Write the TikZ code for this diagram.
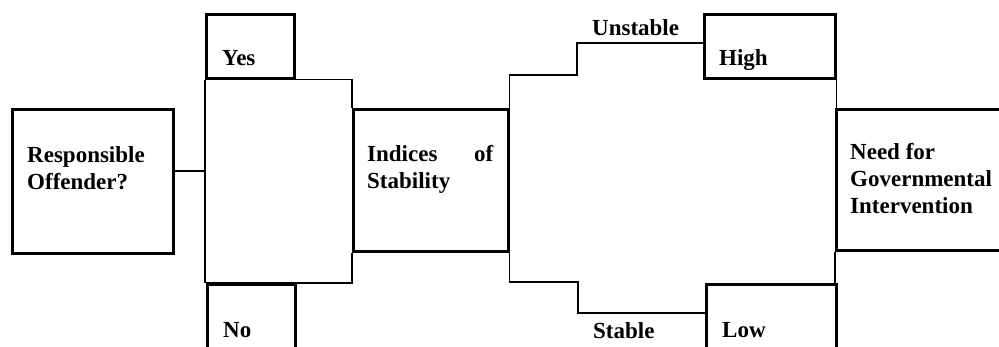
\documentclass[tikz,border=0pt]{standalone}
\usepackage{fontspec}
\setmainfont{Liberation Serif}
\begin{document}
\begin{tikzpicture}[x=1pt,y=-1pt,
  box/.style={draw, line width=2.6pt, inner sep=0pt, anchor=north west},
  wire/.style={line width=1.3pt},
  lbl/.style={anchor=base west, inner sep=0pt, font=\fontsize{23}{27}\selectfont\bfseries, align=left}]
\useasboundingbox (0,0) rectangle (999,346);
% boxes
\node[box, minimum width=161pt, minimum height=144pt] (resp) at (11,108) {};
\node[box, minimum width=88pt,  minimum height=64pt]  (yes)  at (205,13) {};
\node[box, minimum width=88pt,  minimum height=80pt]  (no)   at (206,283) {};
\node[box, minimum width=155pt, minimum height=142pt] (ind)  at (352,108) {};
\node[box, minimum width=131pt, minimum height=64pt]  (high) at (703,13) {};
\node[box, minimum width=130pt, minimum height=80pt]  (low)  at (705,283) {};
\node[box, minimum width=180pt, minimum height=141pt] (need) at (835,108) {};
% texts (base anchor = baseline of last line)
\node[lbl] (tresp) at (27,189) {Responsible\\Offender?};
\node[lbl] (tind)  at (367,188) {\makebox[126pt][l]{Indices\hfill of}\\Stability};
\node[lbl] (tneed) at (850,213) {Need for\\Governmental\\Intervention};
\node[lbl] (tyes)  at (222,65) {Yes};
\node[lbl] (tno)   at (223,337) {No};
\node[lbl] (thigh) at (719,65) {High};
\node[lbl] (tlow)  at (722,337) {Low};
\node[lbl] (tuns)  at (592,35) {Unstable};
\node[lbl] (tsta)  at (593,338) {Stable};
% connectors
\coordinate (j1) at (206,171);
\draw[wire] (resp.east |- j1) -- (j1);
\draw[wire] (yes.south west) -- (yes.south west |- no.north west);
\draw[wire] (yes.south west) -- (yes.south west -| ind.north west) -- (ind.north west);
\draw[wire] (no.north west) -- (no.north west -| ind.south west) -- (ind.south west);
\coordinate (u1) at (577,75);
\coordinate (u2) at (577,43);
\draw[wire] (ind.north east) |- (u1) -- (u2) -- (u2 -| high.west);
\coordinate (s1) at (578,282);
\coordinate (s2) at (578,313);
\draw[wire] (ind.south east) |- (s1) -- (s2) -- (s2 -| low.west);
\draw[wire] (high.south east) -- (high.south east |- need.north west);
\draw[wire] (need.south west) -- (need.south west |- low.north east);
\end{tikzpicture}
\end{document}
